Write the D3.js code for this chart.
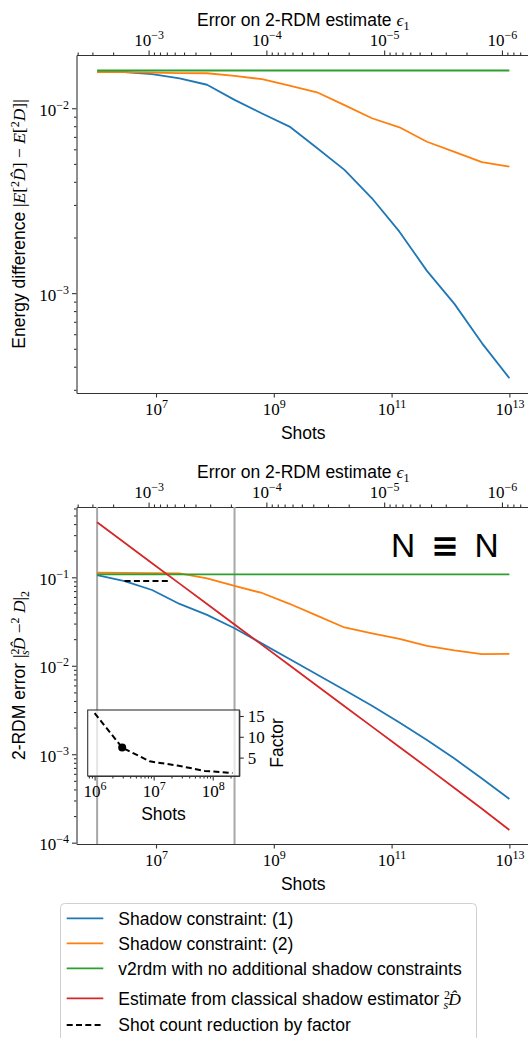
<!DOCTYPE html>
<html>
<head>
<meta charset="utf-8">
<script src="https://cdn.jsdelivr.net/npm/d3@7"></script>
<style>
  body { margin: 0; background: #fff; }
  svg { display: block; }
  .sans { font-family: "Liberation Sans", Arial, sans-serif; }
  .serif { font-family: "Liberation Serif", "DejaVu Serif", serif; }
</style>
</head>
<body>
<svg id="chart" width="528" height="1038"></svg>
<script>
// ---- data ----
const shots = [1e6, 2.929e6, 8.577e6, 2.512e7, 7.356e7, 2.154e8, 6.31e8, 1.848e9,
               5.412e9, 1.585e10, 4.642e10, 1.359e11, 3.981e11, 1.166e12, 3.415e12, 1e13];

// top panel: energy difference
const energyShadow1 = [0.0157, 0.0157, 0.0153, 0.0145, 0.0134, 0.0111, 0.00937, 0.00796,
                       0.00609, 0.00464, 0.00326, 0.00215, 0.00132, 0.000875, 0.000537, 0.000347];
const energyShadow2 = [0.0157, 0.0157, 0.0156, 0.0155, 0.01546, 0.01496, 0.01436, 0.01324,
                       0.0122, 0.0104, 0.00883, 0.00789, 0.00659, 0.00581, 0.00511, 0.00483];
const energyV2rdm   = [0.0160, 0.0160, 0.0160, 0.0160, 0.0160, 0.0160, 0.0160, 0.0160,
                       0.0160, 0.0160, 0.0160, 0.0160, 0.0160, 0.0160, 0.0160, 0.0160];

// bottom panel: 2-RDM error
const rdmShadow1 = [0.106, 0.0908, 0.0719, 0.050, 0.0376, 0.0266, 0.0178, 0.0119,
                    0.00796, 0.00532, 0.00354, 0.00228, 0.00145, 0.000893, 0.000532, 0.000312];
const rdmShadow2 = [0.1127, 0.112, 0.1115, 0.111, 0.097, 0.0798, 0.0665, 0.0502,
                    0.0369, 0.0271, 0.0233, 0.0202, 0.0168, 0.01496, 0.01355, 0.0136];
const rdmV2rdm   = [0.108, 0.108, 0.108, 0.108, 0.108, 0.108, 0.108, 0.108,
                    0.108, 0.108, 0.108, 0.108, 0.108, 0.108, 0.108, 0.108];
const rdmEstimate = [0.419, 0.246, 0.1445, 0.0849, 0.0499, 0.0293, 0.01722, 0.01012,
                     0.00594, 0.00349, 0.00205, 0.001205, 0.00071, 0.000415, 0.000242, 0.000139];

// shot count reduction
const refShots = [1e6, 2.154e8];
const reductionShots = [2.929e6, 1.8e7];
const reductionLevel = [0.0908, 0.0908];
const insetShots = [1e6, 2.929e6, 8.577e6, 2.512e7, 7.356e7, 2.154e8];
const insetFactor = [15.7, 7.4, 4.1, 3.1, 1.8, 1.3];
const insetDot = [2.929e6, 7.4];

// ticks
const shotTicks = [1e7, 1e9, 1e11, 1e13];
const epsTicks = [1e-3, 1e-4, 1e-5, 1e-6];
const energyTicks = [1e-2, 1e-3];
const rdmTicks = [1e-1, 1e-2, 1e-3, 1e-4];
const insetShotTicks = [1e6, 1e7, 1e8];
const factorTicks = [5, 10, 15];

const colors = ["#1f77b4", "#ff7f0e", "#2ca02c", "#d62728"];
const epsConst = 2.735; // eps = c / sqrt(shots)

// ---- setup ----
const svg = d3.select("#chart");
const xRange = [76.5, 530];
const x = d3.scaleLog().domain([Math.pow(10, 5.65), Math.pow(10, 13.35)]).range(xRange);
const eps = d3.scaleLog().domain(x.domain().map(n => epsConst / Math.sqrt(n))).range(xRange);

function minorTicks(domain, majors) {
  const lo = Math.min(...domain), hi = Math.max(...domain);
  const out = [];
  for (let k = Math.floor(Math.log10(lo)); k <= Math.ceil(Math.log10(hi)); k++) {
    for (let m = 1; m <= 9; m++) {
      const v = m * Math.pow(10, k);
      if (v >= lo && v <= hi && !majors.some(t => Math.abs(t - v) / v < 1e-9)) out.push(v);
    }
  }
  return out;
}

function rich(text, parts) {
  parts.forEach(p => {
    const t = text.append("tspan").text(p.t)
      .attr("class", p.sans ? "sans" : "serif");
    if (p.it) t.attr("font-style", "italic");
    if (p.size) t.attr("font-size", p.size);
    if (p.dy) t.attr("dy", p.dy);
    if (p.dx) t.attr("dx", p.dx);
  });
  return text;
}

function pow10(text, d) {
  const e = Math.round(Math.log10(d));
  rich(text, [{t: "10"}, {t: e < 0 ? "\u2212" + (-e) : String(e), size: 12, dy: -7}]);
}

function styleAxis(g) {
  g.selectAll(".tick text").remove();
  g.selectAll("path, line").attr("stroke", "#333").attr("stroke-width", 1.1);
}

function drawPanel(top, bottom, yDomain, yMajors) {
  const g = svg.append("g");
  const y = d3.scaleLog().domain(yDomain).range([bottom, top]);

  // bottom axis
  const bx = g.append("g").attr("transform", `translate(0,${bottom})`)
    .call(d3.axisBottom(x).tickValues(shotTicks).tickSize(4.5).tickSizeOuter(0))
    .call(styleAxis);
  bx.selectAll(".tick").append("text").attr("y", 22).attr("text-anchor", "middle")
    .attr("font-size", 17).attr("fill", "#000").each(function (d) { pow10(d3.select(this), d); });

  // top axis (epsilon)
  const tx = g.append("g").attr("transform", `translate(0,${top})`)
    .call(d3.axisTop(eps).tickValues(epsTicks).tickSize(4.5).tickSizeOuter(0))
    .call(styleAxis);
  tx.selectAll(".tick").append("text").attr("y", -9).attr("text-anchor", "middle")
    .attr("font-size", 17).attr("fill", "#000").each(function (d) { pow10(d3.select(this), d); });
  g.append("g").attr("transform", `translate(0,${top})`)
    .call(d3.axisTop(eps).tickValues(minorTicks(eps.domain(), epsTicks)).tickSize(2.5).tickSizeOuter(0))
    .call(styleAxis).call(a => a.select(".domain").remove());

  // left axis
  const ly = g.append("g").attr("transform", `translate(${xRange[0]},0)`)
    .call(d3.axisLeft(y).tickValues(yMajors).tickSize(4.5).tickSizeOuter(0))
    .call(styleAxis);
  ly.selectAll(".tick").append("text").attr("x", -7.5).attr("y", 7).attr("text-anchor", "end")
    .attr("font-size", 17).attr("fill", "#000").each(function (d) { pow10(d3.select(this), d); });
  g.append("g").attr("transform", `translate(${xRange[0]},0)`)
    .call(d3.axisLeft(y).tickValues(minorTicks(y.domain(), yMajors)).tickSize(2.5).tickSizeOuter(0))
    .call(styleAxis).call(a => a.select(".domain").remove());

  // right spine
  g.append("line").attr("x1", xRange[1]).attr("x2", xRange[1]).attr("y1", top).attr("y2", bottom)
    .attr("stroke", "#333").attr("stroke-width", 1.1);

  // titles
  const mid = (xRange[0] + xRange[1]) / 2;
  g.append("text").attr("class", "sans").attr("x", mid).attr("y", bottom + 45.5)
    .attr("text-anchor", "middle").attr("font-size", 17.5).text("Shots");
  rich(g.append("text").attr("x", mid).attr("y", top - 29).attr("text-anchor", "middle").attr("font-size", 17.5),
    [{t: "Error on 2-RDM estimate ", sans: true}, {t: "\u03f5", it: true}, {t: "1", size: 12, dy: 4}]);

  return {g, y};
}

function drawSeries(g, y, values, color) {
  const line = d3.line().x((d, i) => x(shots[i])).y(d => y(d));
  g.append("path").datum(values).attr("d", line).attr("fill", "none")
    .attr("stroke", color).attr("stroke-width", 1.8).attr("stroke-linejoin", "round");
}

// ---- top panel ----
const p1 = drawPanel(55, 393, [Math.pow(10, -3.54), Math.pow(10, -1.712)], energyTicks);
drawSeries(p1.g, p1.y, energyShadow1, colors[0]);
drawSeries(p1.g, p1.y, energyShadow2, colors[1]);
drawSeries(p1.g, p1.y, energyV2rdm, colors[2]);
rich(p1.g.append("text").attr("transform", "translate(24.5,224) rotate(-90)")
  .attr("text-anchor", "middle").attr("font-size", 17.5),
  [{t: "Energy difference ", sans: true}, {t: "|"}, {t: "E", it: true}, {t: "["},
   {t: "2", size: 12, dy: -6}, {t: "D\u0302", it: true, dy: 6}, {t: "] \u2212 "},
   {t: "E", it: true}, {t: "["}, {t: "2", size: 12, dy: -6}, {t: "D", it: true, dy: 6}, {t: "]|"}]);

// ---- bottom panel ----
const p2 = drawPanel(507, 844, [Math.pow(10, -4.015), Math.pow(10, -0.205)], rdmTicks);
p2.g.selectAll(".refline").data(refShots).join("line").attr("class", "refline")
  .attr("x1", d => x(d)).attr("x2", d => x(d)).attr("y1", 507).attr("y2", 844)
  .attr("stroke", "#a8a8a8").attr("stroke-width", 2);
drawSeries(p2.g, p2.y, rdmShadow1, colors[0]);
drawSeries(p2.g, p2.y, rdmShadow2, colors[1]);
drawSeries(p2.g, p2.y, rdmV2rdm, colors[2]);
drawSeries(p2.g, p2.y, rdmEstimate, colors[3]);
p2.g.append("path").datum(reductionShots)
  .attr("d", d3.line().x(d => x(d)).y((d, i) => p2.y(reductionLevel[i])))
  .attr("fill", "none").attr("stroke", "#000").attr("stroke-width", 2).attr("stroke-dasharray", "6,3.3");

rich(p2.g.append("text").attr("transform", "translate(24.5,675.5) rotate(-90)")
  .attr("text-anchor", "middle").attr("font-size", 17.5),
  [{t: "2-RDM error ", sans: true}, {t: "|"}, {t: "2", size: 12, dy: -6},
   {t: "s", it: true, size: 12, dx: -6.5, dy: 10}, {t: "D\u0302", it: true, dy: -4},
   {t: " \u2212"}, {t: "2", size: 12, dy: -6}, {t: " D", it: true, dy: 6}, {t: "|"},
   {t: "2", size: 12, dy: 4}]);

// N ≡ N
p2.g.append("text").attr("class", "sans").attr("x", 391).attr("y", 556.7).attr("font-size", 33.5).text("N");
p2.g.append("text").attr("x", 444.7).attr("y", 556.7).attr("text-anchor", "middle")
  .attr("font-family", "DejaVu Sans").attr("font-weight", "bold").attr("font-size", 33.5).text("\u2261");
p2.g.append("text").attr("class", "sans").attr("x", 474.5).attr("y", 556.7).attr("font-size", 33.5).text("N");

// ---- inset ----
const ix = d3.scaleLog().domain([Math.pow(10, 5.883), Math.pow(10, 8.45)]).range([87.7, 239.3]);
const iy = d3.scaleLinear().domain([0.58, 16.44]).range([776, 710]);
const inset = svg.append("g");
inset.append("rect").attr("x", 87.7).attr("y", 710).attr("width", 239.3 - 87.7).attr("height", 66)
  .attr("fill", "#fff").attr("fill-opacity", 0.7).attr("stroke", "#333").attr("stroke-width", 1.1);
const ibx = inset.append("g").attr("transform", "translate(0,776)")
  .call(d3.axisBottom(ix).tickValues(insetShotTicks).tickSize(4.5).tickSizeOuter(0)).call(styleAxis);
ibx.selectAll(".tick").append("text").attr("y", 21).attr("text-anchor", "middle")
  .attr("font-size", 17).attr("fill", "#000").each(function (d) { pow10(d3.select(this), d); });
inset.append("g").attr("transform", "translate(0,776)")
  .call(d3.axisBottom(ix).tickValues(minorTicks(ix.domain(), insetShotTicks)).tickSize(2.5).tickSizeOuter(0))
  .call(styleAxis).call(a => a.select(".domain").remove());
const iry = inset.append("g").attr("transform", "translate(239.3,0)")
  .call(d3.axisRight(iy).tickValues(factorTicks).tickSize(4.5).tickSizeOuter(0)).call(styleAxis);
iry.selectAll(".tick").append("text").attr("class", "serif").attr("x", 8.5).attr("y", 5.8)
  .attr("font-size", 17).attr("fill", "#000").text(d => d);
inset.append("path").datum(insetFactor)
  .attr("d", d3.line().x((d, i) => ix(insetShots[i])).y(d => iy(d)))
  .attr("fill", "none").attr("stroke", "#000").attr("stroke-width", 2).attr("stroke-dasharray", "6,3.3");
inset.append("circle").attr("cx", ix(insetDot[0])).attr("cy", iy(insetDot[1])).attr("r", 4).attr("fill", "#000");
inset.append("text").attr("class", "sans").attr("x", 163.5).attr("y", 820)
  .attr("text-anchor", "middle").attr("font-size", 17.5).text("Shots");
inset.append("text").attr("class", "sans").attr("transform", "translate(283.3,743) rotate(-90)")
  .attr("text-anchor", "middle").attr("font-size", 17.5).text("Factor");

// ---- legend ----
const legendRows = [
  {color: colors[0], y: 918.3, parts: [{t: "Shadow constraint: (1)", sans: true}]},
  {color: colors[1], y: 943.3, parts: [{t: "Shadow constraint: (2)", sans: true}]},
  {color: colors[2], y: 968.3, parts: [{t: "v2rdm with no additional shadow constraints", sans: true}]},
  {color: colors[3], y: 998.3, parts: [{t: "Estimate from classical shadow estimator ", sans: true},
     {t: "2", size: 12, dy: -6}, {t: "s", it: true, size: 12, dx: -6.5, dy: 10}, {t: "D\u0302", it: true, dy: -4}]},
  {color: "#000", y: 1025, dash: true, parts: [{t: "Shot count reduction by factor", sans: true}]}
];
const legend = svg.append("g");
legend.append("rect").attr("x", 60.5).attr("y", 903.5).attr("width", 416).attr("height", 160)
  .attr("rx", 4).attr("fill", "#fff").attr("stroke", "#d0d0d0").attr("stroke-width", 1);
legendRows.forEach(r => {
  legend.append("line").attr("x1", 66.7).attr("x2", 103.3).attr("y1", r.y).attr("y2", r.y)
    .attr("stroke", r.color).attr("stroke-width", r.dash ? 2 : 1.8)
    .attr("stroke-dasharray", r.dash ? "6,3.3" : null);
  rich(legend.append("text").attr("x", 118.3).attr("y", r.y + 6.2).attr("font-size", 17.5), r.parts);
});
</script>
</body>
</html>
